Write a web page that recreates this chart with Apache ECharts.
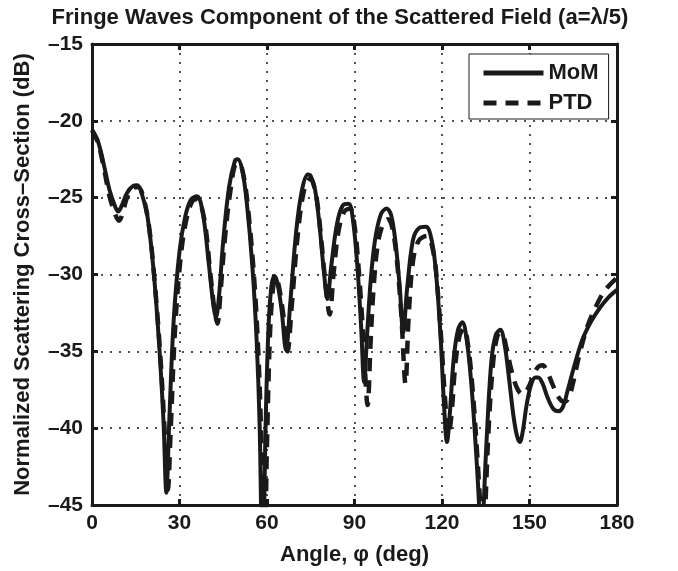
<!DOCTYPE html>
<html>
<head>
<meta charset="utf-8">
<script src="https://cdn.jsdelivr.net/npm/echarts@6/dist/echarts.min.js"></script>
<style>
  html, body { margin: 0; padding: 0; background: #fff; }
  #main { width: 678px; height: 571px; }
</style>
</head>
<body>
<div id="main"></div>
<script>
// tick labels
const xTicks = [0, 30, 60, 90, 120, 150, 180];
const yTicks = [-45, -40, -35, -30, -25, -20, -15];

// MoM (solid), angle in deg and RCS in dB
const phiMoM = [0, 2, 4, 6, 8, 9, 10, 12, 14, 15.5, 17, 19, 21, 23, 24.5, 25.5, 26.5, 28, 30, 32, 34, 36, 38, 40, 41.5, 42.5, 43.5, 45, 47, 49, 50, 51.5, 53, 55, 56.5, 57.5, 58.5, 59.5, 60.5, 61.5, 62.5, 63.5, 65, 66.5, 68, 70, 72, 74, 75, 76.5, 78, 79.5, 80.7, 82, 84, 86, 88, 89.5, 91, 92.3, 93.3, 94.3, 95.5, 97, 99, 101, 102.5, 104, 105.5, 106.7, 108, 110, 112, 114.5, 116.5, 118, 119.5, 120.7, 121.7, 122.7, 124, 125.5, 127, 128.5, 130, 131.5, 132.7, 133.5, 134.3, 135.5, 137, 138.5, 140, 141.5, 143, 144.5, 145.7, 146.7, 147.7, 149, 150.5, 152, 153, 154.5, 156, 158, 160, 161.5, 163, 165, 168, 171, 174, 177, 180];
const rcsMoM = [-20.6, -21.3, -22.8, -24.5, -25.6, -25.9, -25.6, -24.7, -24.25, -24.2, -24.7, -26.2, -29.5, -34.5, -39.5, -44.2, -39.5, -33, -28.5, -26.2, -25.1, -24.9, -26, -29.2, -31.8, -32.8, -31.5, -27.8, -24.3, -22.6, -22.5, -23.2, -25.2, -29.5, -34.5, -40, -50, -40, -33.5, -30.8, -30.1, -30.5, -32.3, -34.9, -31.8, -27.2, -24.5, -23.5, -23.6, -24.5, -26.8, -29.8, -31.6, -29.5, -26.7, -25.5, -25.4, -26.5, -29.5, -33.5, -37, -34, -30.5, -27.8, -26.1, -25.7, -26.1, -27.8, -30.8, -33.8, -31, -27.8, -27, -26.9, -27.8, -30, -34, -38.5, -40.9, -39, -35.5, -33.6, -33.1, -34.3, -37, -41, -45, -50, -45, -40, -35.5, -33.9, -33.6, -34.6, -36.8, -39.2, -40.5, -40.9, -40.2, -38.5, -37.2, -36.7, -36.7, -37.1, -37.9, -38.7, -38.9, -38.6, -37.6, -36.2, -34.3, -33.1, -32.2, -31.5, -31];

// PTD (dashed)
const phiPTD = [0, 2, 4, 6, 8, 9.3, 10.5, 12, 14, 15.8, 17.5, 19.5, 21.5, 23.5, 25, 26, 27, 28.5, 30.5, 32.5, 34.5, 36, 38.5, 40.5, 42, 43, 44, 45.5, 47.5, 49.5, 50.5, 52, 53.5, 55.5, 57, 58, 59, 60, 61, 62, 63, 64, 65.5, 67, 68.5, 70.5, 72.5, 74.5, 75.5, 77, 78.5, 80, 81.5, 82.8, 84.5, 86.5, 88.5, 90, 91.5, 93, 94.5, 95.5, 96.5, 98, 100, 101.5, 103, 104.5, 106, 107.5, 108.5, 110, 112, 114.8, 117, 118.5, 120, 121.2, 122.3, 123.3, 124.5, 126, 127.5, 129, 130.5, 132, 133.2, 134, 134.8, 136, 137.5, 139, 140.5, 142, 143.5, 145.5, 147.5, 149.5, 151.5, 153, 154.5, 156, 158, 160, 162, 163.5, 165, 167, 170, 173, 176, 180];
const rcsPTD = [-20.6, -21.4, -23, -24.9, -26.1, -26.5, -26, -25, -24.4, -24.3, -24.9, -26.8, -30.5, -35.5, -40.5, -44, -40, -33.5, -28.7, -26.3, -25.2, -25.1, -26.4, -29.8, -32.3, -33.2, -31.3, -27.8, -24.5, -22.8, -22.8, -23.6, -25.7, -30, -35, -40.5, -50, -41, -34, -31, -30.2, -30.7, -32.5, -35, -32, -27.5, -24.7, -23.8, -23.9, -25, -27.5, -30.5, -32.6, -30, -27.2, -25.9, -25.7, -26.8, -29.8, -34, -38.5, -34.5, -31, -28, -26.6, -26.4, -27, -29, -32.5, -37.1, -33, -29.2, -27.8, -27.5, -28.5, -31, -35, -38.5, -40.4, -39, -36, -34, -33.5, -34.7, -37.5, -41.5, -45.5, -50, -45.5, -40, -35.8, -34, -33.8, -34.7, -36, -37.3, -37.8, -37.4, -36.5, -36, -35.9, -36.3, -37.2, -38, -38.3, -38, -37, -35.3, -33.3, -32, -31, -30.2];

const ink = '#1a1a1a';
const font = '"Liberation Sans", Arial, Helvetica, sans-serif';
const dash = v => String(v).replace('-', '\u2013');

const chart = echarts.init(document.getElementById('main'));

const option = {
  backgroundColor: '#fff',
  animation: false,
  title: {
    text: 'Fringe Waves Component of the Scattered Field (a=\u03bb/5)',
    left: 335, textAlign: 'center', top: 2,
    textStyle: { fontFamily: font, fontWeight: 'bold', fontSize: 22, color: ink }
  },
  legend: {
    data: ['MoM', 'PTD'],
    orient: 'vertical',
    left: 469, top: 54,
    backgroundColor: '#fff',
    borderColor: ink, borderWidth: 1,
    padding: [8, 10, 5, 12],
    itemGap: 8,
    itemWidth: 60, itemHeight: 4,
    itemStyle: { opacity: 0 },
    lineStyle: { width: 5 },
    textStyle: { fontFamily: font, fontWeight: 'bold', fontSize: 22, color: ink }
  },
  grid: { left: 92, top: 44, width: 525, height: 463 },
  xAxis: [{
    type: 'value', min: 0, max: 180, interval: 30,
    name: 'Angle, \u03c6 (deg)', nameLocation: 'middle', nameGap: 39,
    nameTextStyle: { fontFamily: font, fontWeight: 'bold', fontSize: 22, color: ink },
    axisLine: { onZero: false, lineStyle: { color: ink, width: 3 } },
    axisTick: { inside: true, length: 6, lineStyle: { color: ink, width: 3 } },
    axisLabel: { margin: 8, fontFamily: font, fontWeight: 'bold', fontSize: 21, color: ink,
      customValues: xTicks, formatter: dash },
    splitLine: { show: true, lineStyle: { color: ink, width: 1.5, type: [2, 7] } }
  }, {
    type: 'value', min: 0, max: 180, interval: 30, position: 'top',
    axisLine: { onZero: false, lineStyle: { color: ink, width: 3 } },
    axisTick: { inside: true, length: 6, lineStyle: { color: ink, width: 3 } },
    axisLabel: { show: false }, splitLine: { show: false }
  }],
  yAxis: [{
    type: 'value', min: -45, max: -15, interval: 5,
    name: 'Normalized Scattering Cross\u2013Section (dB)', nameLocation: 'middle', nameGap: 58,
    nameTextStyle: { fontFamily: font, fontWeight: 'bold', fontSize: 22, color: ink },
    axisLine: { onZero: false, lineStyle: { color: ink, width: 3 } },
    axisTick: { inside: true, length: 6, lineStyle: { color: ink, width: 3 } },
    axisLabel: { margin: 9, fontFamily: font, fontWeight: 'bold', fontSize: 21, color: ink,
      customValues: yTicks, formatter: dash },
    splitLine: { show: true, lineStyle: { color: ink, width: 1.5, type: [2, 7] } }
  }, {
    type: 'value', min: -45, max: -15, interval: 5, position: 'right',
    axisLine: { onZero: false, lineStyle: { color: ink, width: 3 } },
    axisTick: { inside: true, length: 6, lineStyle: { color: ink, width: 3 } },
    axisLabel: { show: false }, splitLine: { show: false }
  }],
  series: [{
    name: 'MoM', type: 'line', xAxisIndex: 0, yAxisIndex: 0,
    data: phiMoM.map((p, i) => [p, rcsMoM[i]]),
    showSymbol: false, symbol: 'none', smooth: 0.35, clip: true,
    lineStyle: { color: ink, width: 4 }, itemStyle: { color: ink }
  }, {
    name: 'PTD', type: 'line', xAxisIndex: 0, yAxisIndex: 0,
    data: phiPTD.map((p, i) => [p, rcsPTD[i]]),
    showSymbol: false, symbol: 'none', smooth: 0.35, clip: true,
    lineStyle: { color: ink, width: 4.5, type: [13, 9] }, itemStyle: { color: ink }
  }]
};

chart.setOption(option);
</script>
</body>
</html>
